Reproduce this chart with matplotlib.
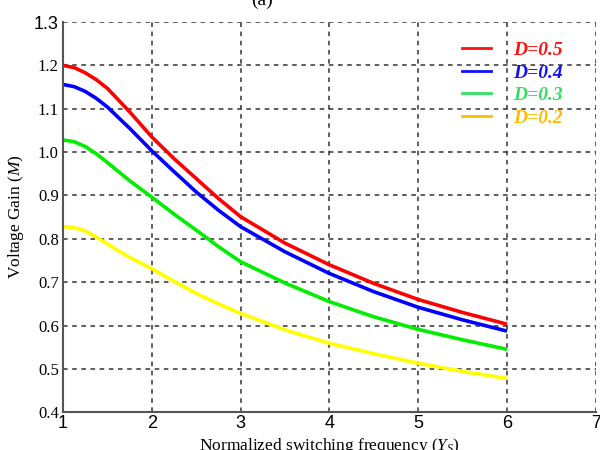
import matplotlib
matplotlib.use('Agg')
import matplotlib.pyplot as plt
from matplotlib.lines import Line2D

plt.rcParams['mathtext.fontset'] = 'custom'
plt.rcParams['mathtext.it'] = 'Liberation Serif:italic'
plt.rcParams['mathtext.rm'] = 'Liberation Serif'

ys = [1, 1.125, 1.25, 1.375, 1.5, 1.75, 2, 2.25, 2.5, 2.75, 3, 3.5, 4, 4.5, 5, 5.5, 6]
gain_05 = [1.200, 1.195, 1.183, 1.167, 1.147, 1.093, 1.035, 0.985, 0.939, 0.893, 0.851, 0.790, 0.740, 0.697, 0.660, 0.630, 0.603]
gain_04 = [1.156, 1.151, 1.140, 1.124, 1.104, 1.055, 1.003, 0.955, 0.908, 0.866, 0.828, 0.770, 0.720, 0.678, 0.642, 0.613, 0.587]
gain_03 = [1.028, 1.024, 1.013, 0.996, 0.976, 0.934, 0.896, 0.857, 0.820, 0.782, 0.747, 0.698, 0.655, 0.620, 0.591, 0.567, 0.545]
gain_02 = [0.828, 0.826, 0.818, 0.804, 0.788, 0.757, 0.731, 0.702, 0.674, 0.650, 0.628, 0.590, 0.559, 0.535, 0.513, 0.494, 0.478]

labels = ['D=0.5', 'D=0.4', 'D=0.3', 'D=0.2']
line_colors = ['#ff0000', '#0000ff', '#00ee00', '#ffff00']
legend_colors = ['#ff1010', '#1010ff', '#30e060', '#ffbb00']

x_ticks = [1, 2, 3, 4, 5, 6, 7]
y_ticks = [0.4, 0.5, 0.6, 0.7, 0.8, 0.9, 1.0, 1.1, 1.2, 1.3]
y_ticklabels = ['0.4', '0.5', '0.6', '0.7', '0.8', '0.9', '1.0', '1.1', '1.2', '1.3']

fig = plt.figure(figsize=(6, 4.5), dpi=100)
ax = fig.add_axes([0.105, 0.084, 0.888, 0.867])

for vals, c in zip([gain_05, gain_04, gain_03, gain_02], line_colors):
    ax.plot(ys, vals, color=c, lw=2.6, solid_capstyle='butt', solid_joinstyle='round')

ax.set_xlim(1, 7)
ax.set_ylim(0.4, 1.3)
ax.set_xticks(x_ticks)
ax.set_yticks(y_ticks)
ax.set_yticklabels(y_ticklabels)
ax.tick_params(axis='x', length=0, pad=2)
ax.tick_params(axis='y', length=0, pad=3)
for t in ax.get_xticklabels():
    t.set_fontfamily('Liberation Sans')
    t.set_fontsize(13)
for t in ax.get_yticklabels():
    t.set_fontfamily('Liberation Serif')
    t.set_fontsize(12)
ax.get_yticklabels()[-1].set_fontfamily('Liberation Sans')
ax.get_yticklabels()[-1].set_fontsize(13)

ax.grid(True, color='#333333', linestyle=(0, (3, 3)), lw=1.1)
for s in ['top', 'right']:
    ax.spines[s].set_visible(False)
for s in ['left', 'bottom']:
    ax.spines[s].set_color('#555555')
    ax.spines[s].set_linewidth(1.5)

ax.set_xlabel('Normalized switching frequency ($\\mathit{Y_S}$)', family='Liberation Serif',
              fontsize=12.5, labelpad=3)
ax.set_ylabel('Voltage Gain ($\\mathit{M}$)', family='Liberation Serif', fontsize=12.5, labelpad=6)

handles = [Line2D([], [], color=c, lw=2) for c in legend_colors]
leg = ax.legend(handles, labels, loc='upper right', bbox_to_anchor=(0.97, 0.995), frameon=False,
                handlelength=1.5, handletextpad=1.1, labelspacing=0.25,
                prop={'family': 'Liberation Serif', 'weight': 'bold', 'style': 'italic', 'size': 14})
for t, c in zip(leg.get_texts(), legend_colors):
    t.set_color(c)

fig.text(0.437, 1.0, '(a)', ha='center', va='center', family='Liberation Serif', fontsize=14)

fig.savefig('out.png', dpi=100)
